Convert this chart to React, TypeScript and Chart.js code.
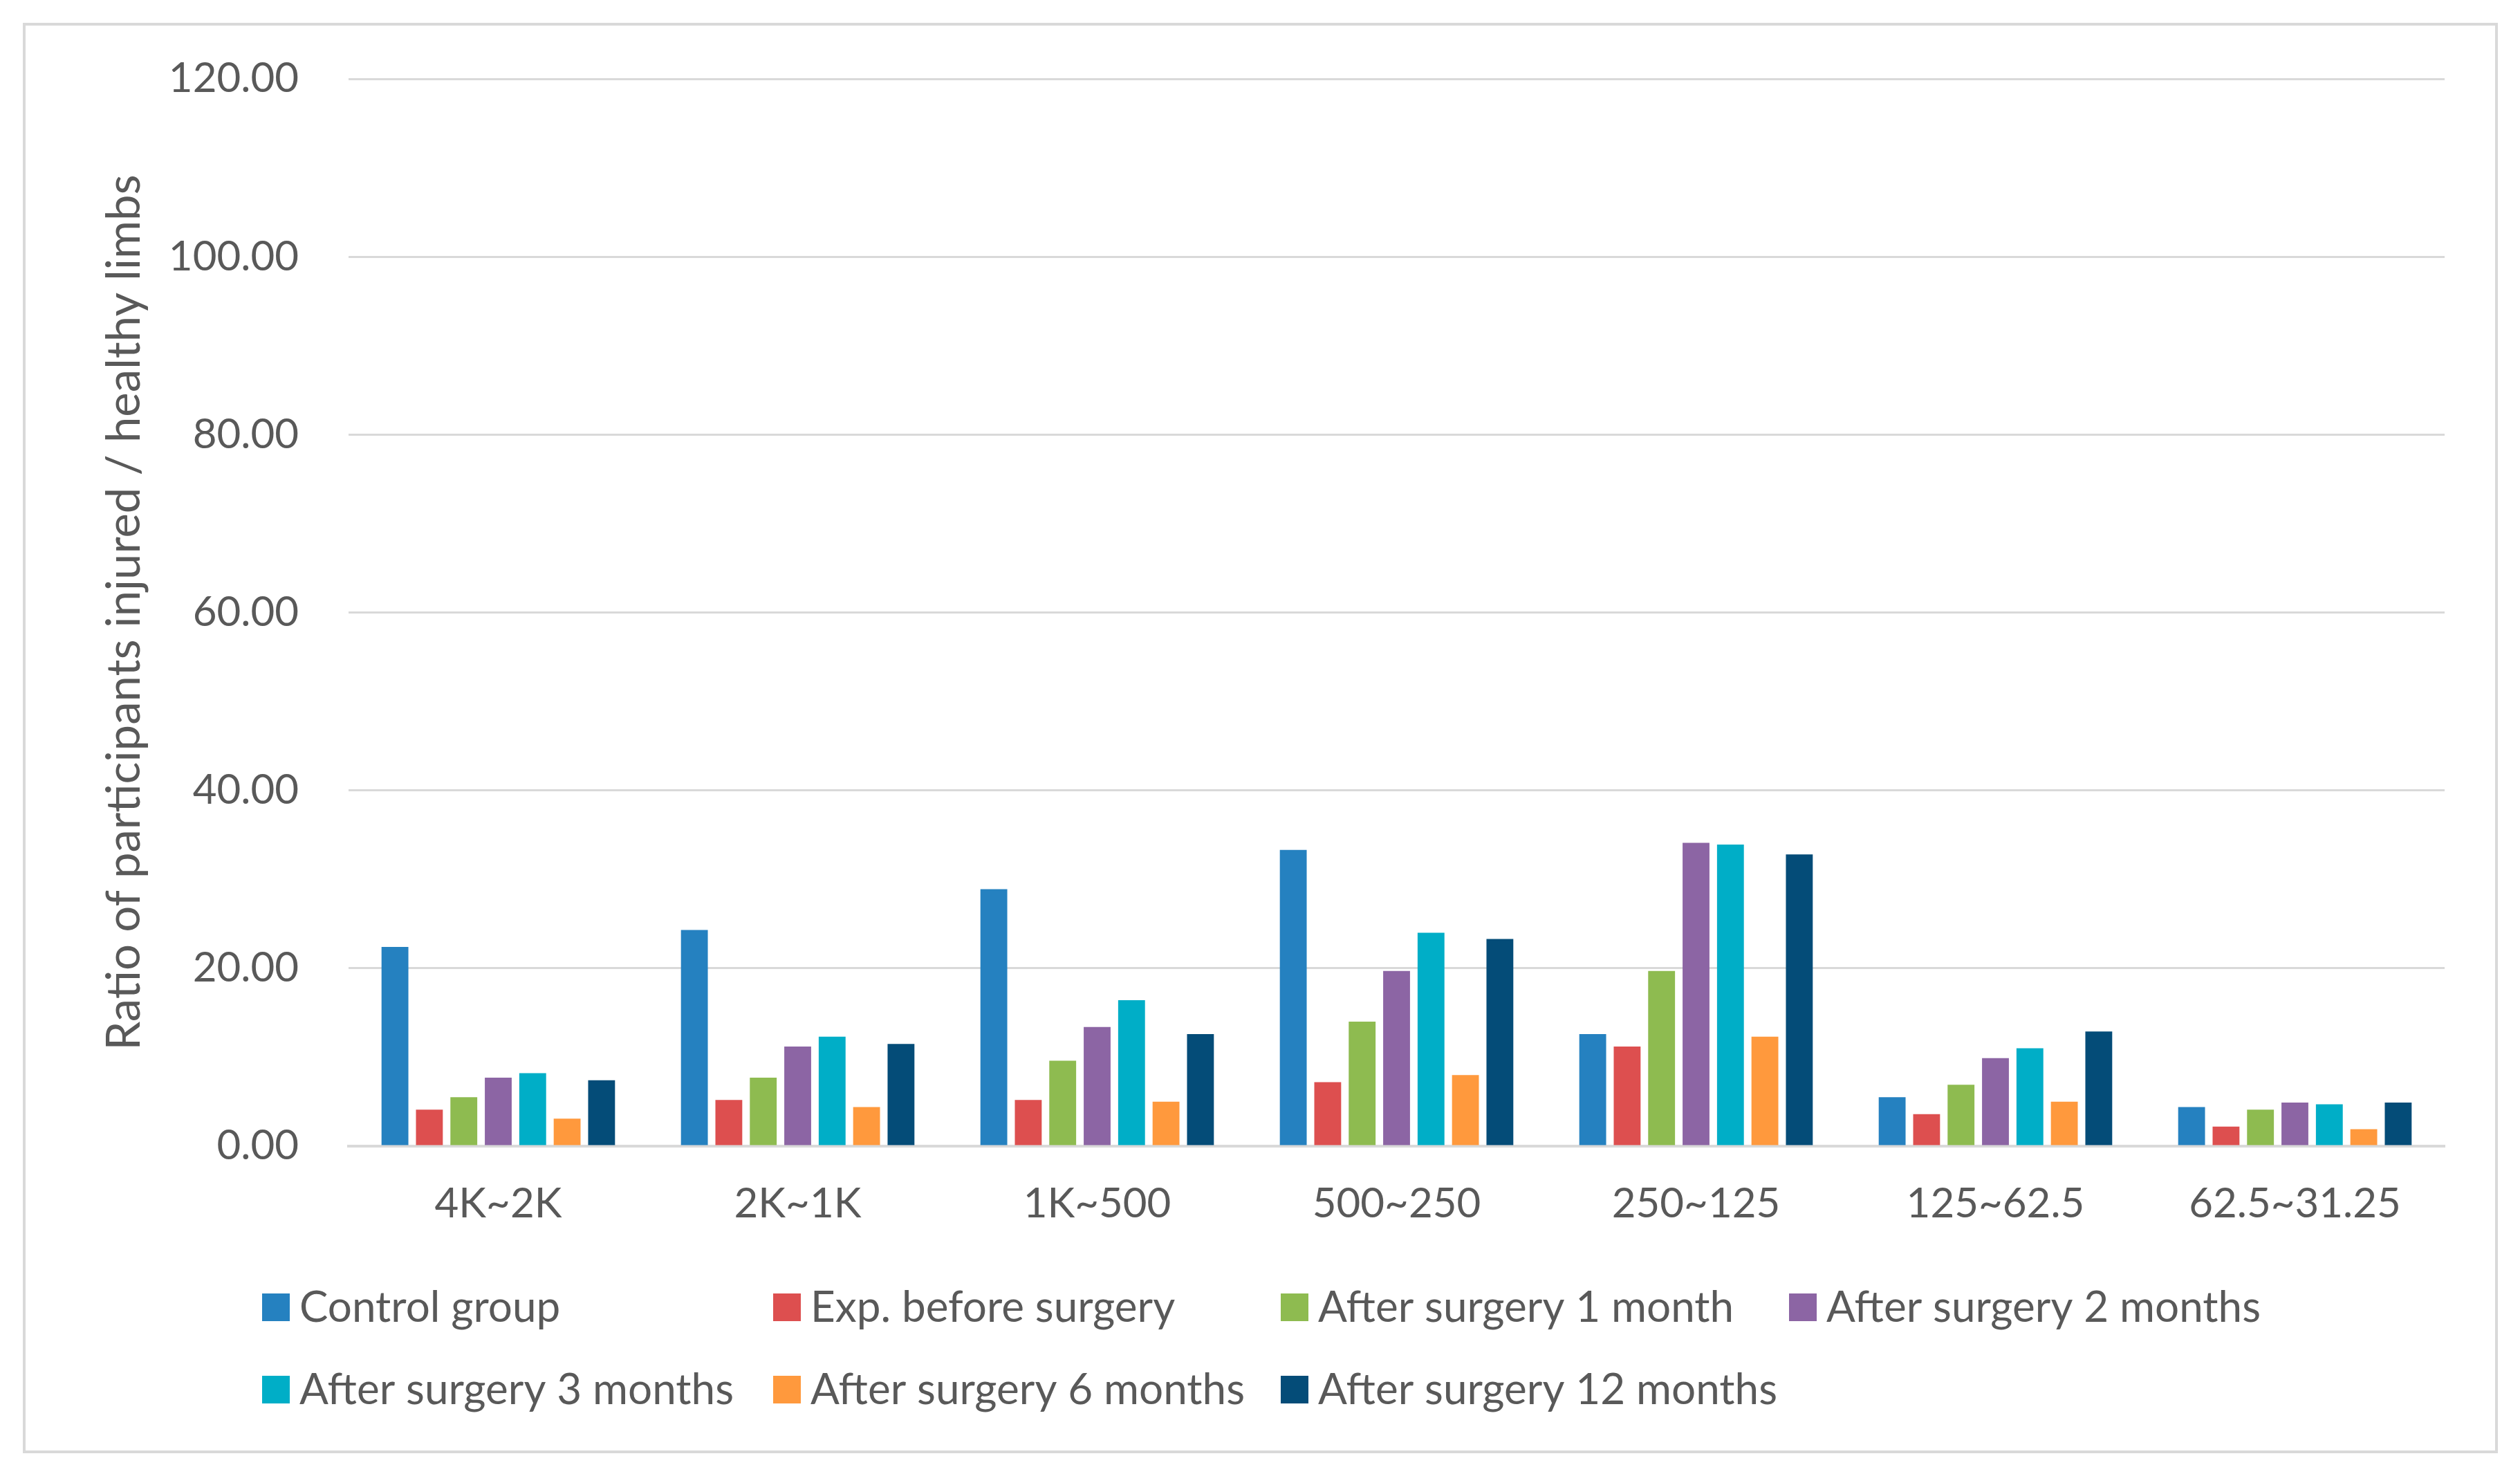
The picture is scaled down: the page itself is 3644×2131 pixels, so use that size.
import React, { useEffect, useRef } from "react";
import { Chart, registerables } from "chart.js";

Chart.register(...registerables);

const categories = ["4K~2K", "2K~1K", "1K~500", "500~250", "250~125", "125~62.5", "62.5~31.25"];
const seriesNames = [
  "Control group",
  "Exp. before surgery",
  "After surgery 1 month",
  "After surgery 2 months",
  "After surgery 3 months",
  "After surgery 6 months",
  "After surgery 12 months",
];
const controlGroup = [22.4, 24.3, 28.9, 33.3, 12.6, 5.5, 4.4];
const expBefore = [4.1, 5.2, 5.2, 7.2, 11.2, 3.6, 2.2];
const after1m = [5.5, 7.7, 9.6, 14.0, 19.7, 6.9, 4.1];
const after2m = [7.7, 11.2, 13.4, 19.7, 34.1, 9.9, 4.9];
const after3m = [8.2, 12.3, 16.4, 24.0, 33.9, 11.0, 4.7];
const after6m = [3.1, 4.4, 5.0, 8.0, 12.3, 5.0, 1.9];
const after12m = [7.4, 11.5, 12.6, 23.3, 32.8, 12.9, 4.9];
const seriesValues = [controlGroup, expBefore, after1m, after2m, after3m, after6m, after12m];
const colors = ["#2581C0", "#DD4F4F", "#8EBB50", "#8C65A4", "#00AEC7", "#FF993D", "#044C78"];
const yTitle = "Ratio of participants injured / healthy limbs";

const W = 3644;
const H = 2131;
const FONT = "Lato";
const TEXT = "#595959";

const gridLegend = {
  id: "gridLegend",
  afterDraw(chart: any) {
    const ctx = chart.ctx;
    const cols = [379, 1118, 1852, 2587];
    const rows = [1890, 2009];
    ctx.save();
    chart.data.datasets.forEach((ds: any, i: number) => {
      const x = cols[i % 4];
      const y = rows[Math.floor(i / 4)];
      ctx.fillStyle = ds.backgroundColor;
      ctx.fillRect(x, y - 20, 40, 40);
      ctx.fillStyle = TEXT;
      ctx.font = `62px ${FONT}`;
      ctx.textBaseline = "middle";
      ctx.textAlign = "left";
      ctx.fillText(ds.label, x + 54, y + 1);
    });
    ctx.restore();
  },
};

export default function App() {
  const ref = useRef<HTMLCanvasElement | null>(null);
  useEffect(() => {
    document.body.style.margin = "0";
    document.body.style.overflow = "hidden";
    const canvas = ref.current!;
    const chart = new Chart(canvas, {
      type: "bar",
      data: {
        labels: categories,
        datasets: seriesNames.map((name, i) => ({
          label: name,
          data: seriesValues[i],
          backgroundColor: colors[i],
          borderWidth: 0,
          categoryPercentage: 0.805,
          barPercentage: 0.78,
        })),
      },
      plugins: [gridLegend],
      options: {
        animation: false,
        responsive: false,
        devicePixelRatio: 1,
        layout: { padding: { left: 0, right: 109, top: 114, bottom: 354 } },
        plugins: {
          legend: { display: false },
          tooltip: { enabled: false },
        },
        scales: {
          x: {
            grid: { display: false, drawTicks: false },
            border: { display: true, color: "#D9D9D9", width: 4 },
            ticks: { color: TEXT, font: { family: FONT, size: 60 }, padding: 48, maxRotation: 0 },
            afterFit: (s: any) => {
              s.height = 120;
            },
          },
          y: {
            min: 0,
            max: 120,
            grid: { color: "#D9D9D9", lineWidth: 3, drawTicks: false },
            border: { display: false },
            ticks: {
              stepSize: 20,
              color: TEXT,
              font: { family: FONT, size: 60 },
              padding: 72,
              callback: (v: any) => Number(v).toFixed(2),
            },
            title: {
              display: true,
              text: yTitle,
              color: TEXT,
              font: { family: FONT, size: 67 },
              padding: { top: 140, bottom: 0 },
            },
            afterFit: (s: any) => {
              s.width = 504;
            },
          },
        },
      },
    });
    return () => chart.destroy();
  }, []);
  return (
    <div style={{ position: "relative", width: W, height: H, background: "#fff" }}>
      <div
        style={{
          position: "absolute",
          left: 33,
          top: 33,
          width: 3579,
          height: 2068,
          border: "4px solid #D9D9D9",
          boxSizing: "border-box",
        }}
      />
      <canvas ref={ref} width={W} height={H} style={{ position: "absolute", left: 0, top: 0 }} />
    </div>
  );
}
